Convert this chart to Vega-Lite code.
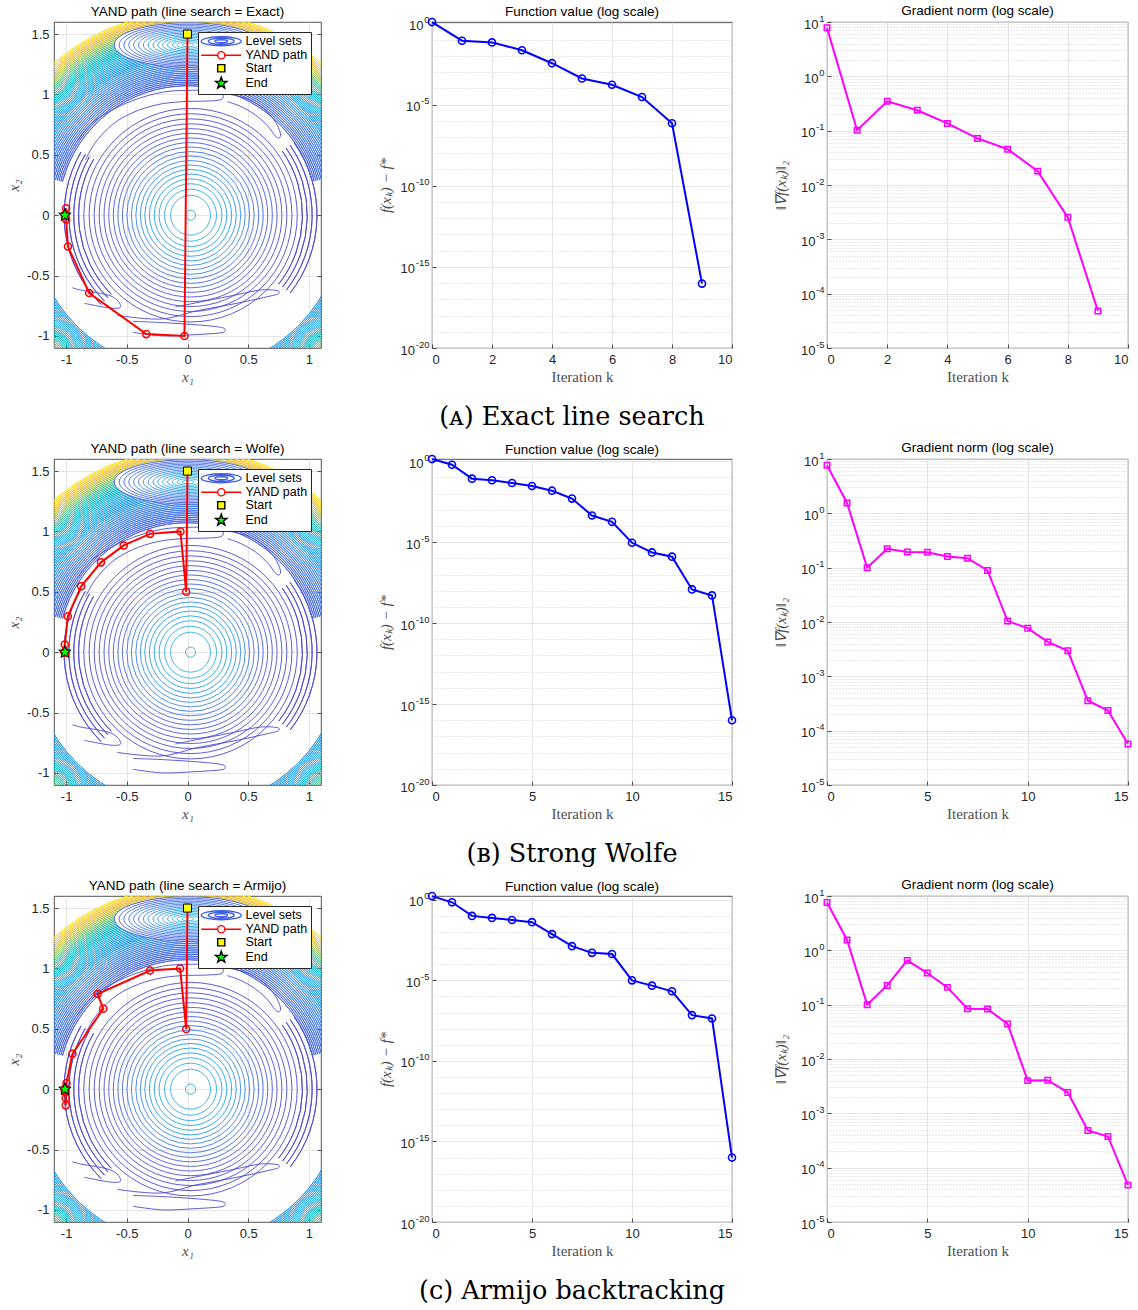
{
"$schema": "https://vega.github.io/schema/vega-lite/v6.json",
"padding": {"left": 5, "top": 3, "right": 0, "bottom": 0},
"background": "#ffffff",
"spacing": 9,
"resolve": {"scale": {"fill": "independent", "stroke": "independent", "shape": "independent"}, "legend": {"fill": "independent", "stroke": "independent", "shape": "independent"}},
"config": {
 "view": {"stroke": "#262626", "strokeWidth": 0.8},
 "title": {"font": "Liberation Sans", "fontSize": 13.5, "fontWeight": "normal", "color": "#000000", "offset": -4.5, "frame": "group"},
 "axis": {"labelFont": "Liberation Sans", "labelFontSize": 13, "labelColor": "#262626", "titleFont": "Liberation Serif", "titleFontSize": 15, "titleFontWeight": "normal", "titleColor": "#4d4d4d", "domain": false, "ticks": true, "tickSize": -4, "tickColor": "#262626", "tickWidth": 0.8, "labelPadding": 9, "gridColor": "#dedede", "gridWidth": 0.8, "gridOpacity": 1},
 "legend": {"labelFont": "Liberation Sans"}
},
"datasets": {
 "hill": [
  {"cx":0.025,"cy":0,"r":0.042,"lvl":0.34},{"cx":0.025,"cy":0,"r":0.165,"lvl":0.33},{"cx":0.025,"cy":0,"r":0.215,"lvl":0.32},
  {"cx":0.025,"cy":0,"r":0.26,"lvl":0.31},{"cx":0.025,"cy":0,"r":0.30,"lvl":0.29},{"cx":0.025,"cy":0,"r":0.34,"lvl":0.27},
  {"cx":0.025,"cy":0,"r":0.378,"lvl":0.25},{"cx":0.025,"cy":0,"r":0.415,"lvl":0.22},{"cx":0.025,"cy":0,"r":0.452,"lvl":0.19},
  {"cx":0.025,"cy":0,"r":0.489,"lvl":0.16},{"cx":0.025,"cy":0,"r":0.526,"lvl":0.13},{"cx":0.025,"cy":0,"r":0.563,"lvl":0.11},
  {"cx":0.025,"cy":0,"r":0.60,"lvl":0.09},{"cx":0.025,"cy":0,"r":0.638,"lvl":0.07},{"cx":0.025,"cy":0,"r":0.676,"lvl":0.055},
  {"cx":0.025,"cy":0,"r":0.715,"lvl":0.04},{"cx":0.025,"cy":0,"r":0.755,"lvl":0.03},{"cx":0.025,"cy":0,"r":0.796,"lvl":0.02},
  {"cx":0.025,"cy":0,"r":0.838,"lvl":0.01},{"cx":0.025,"cy":0,"r":0.882,"lvl":0.005}
 ],
 "arcs": [
  {"cx":0.025,"cy":0,"r":0.925,"t1":225,"t2":300,"lvl":0.0},{"cx":0.025,"cy":0,"r":0.965,"t1":225,"t2":300,"lvl":0.0},
  {"cx":0.025,"cy":0,"r":1.005,"t1":225,"t2":300,"lvl":0.0},{"cx":0.025,"cy":0,"r":1.045,"t1":225,"t2":300,"lvl":0.0},
  {"cx":0.025,"cy":0,"r":0.925,"t1":55,"t2":128,"lvl":0.0},{"cx":0.025,"cy":0,"r":0.965,"t1":55,"t2":128,"lvl":0.0},
  {"cx":0.025,"cy":0,"r":1.005,"t1":55,"t2":128,"lvl":0.0},{"cx":0.025,"cy":0,"r":1.045,"t1":55,"t2":128,"lvl":0.0},
  {"cx":0,"cy":0,"r":1.070,"t1":285,"t2":435,"lvl":0.09},{"cx":0,"cy":0,"r":1.085,"t1":285,"t2":435,"lvl":0.10},
  {"cx":0,"cy":0,"r":1.100,"t1":285,"t2":435,"lvl":0.11},{"cx":0,"cy":0,"r":1.115,"t1":285,"t2":435,"lvl":0.12},
  {"cx":0,"cy":0,"r":1.130,"t1":285,"t2":435,"lvl":0.13},{"cx":0,"cy":0,"r":1.145,"t1":285,"t2":435,"lvl":0.14},
  {"cx":0,"cy":0,"r":1.160,"t1":285,"t2":435,"lvl":0.15},{"cx":0,"cy":0,"r":1.175,"t1":285,"t2":435,"lvl":0.16},
  {"cx":0,"cy":0,"r":1.190,"t1":285,"t2":435,"lvl":0.17},{"cx":0,"cy":0,"r":1.205,"t1":285,"t2":435,"lvl":0.18},
  {"cx":0,"cy":0,"r":1.220,"t1":285,"t2":435,"lvl":0.19},{"cx":0,"cy":0,"r":1.235,"t1":285,"t2":435,"lvl":0.20},
  {"cx":0,"cy":0,"r":1.250,"t1":285,"t2":435,"lvl":0.215},{"cx":0,"cy":0,"r":1.265,"t1":285,"t2":435,"lvl":0.23},
  {"cx":0,"cy":0,"r":1.280,"t1":285,"t2":435,"lvl":0.245},
  {"cx":0,"cy":0,"r":1.295,"t1":0,"t2":360,"lvl":0.25},{"cx":0,"cy":0,"r":1.308,"t1":0,"t2":360,"lvl":0.26},
  {"cx":0,"cy":0,"r":1.321,"t1":0,"t2":360,"lvl":0.27},{"cx":0,"cy":0,"r":1.334,"t1":0,"t2":360,"lvl":0.28},
  {"cx":0,"cy":0,"r":1.347,"t1":0,"t2":360,"lvl":0.29},{"cx":0,"cy":0,"r":1.360,"t1":0,"t2":360,"lvl":0.30},
  {"cx":0,"cy":0,"r":1.373,"t1":0,"t2":360,"lvl":0.31},{"cx":0,"cy":0,"r":1.386,"t1":0,"t2":360,"lvl":0.32},
  {"cx":0,"cy":0,"r":1.399,"t1":0,"t2":360,"lvl":0.335},{"cx":0,"cy":0,"r":1.412,"t1":0,"t2":360,"lvl":0.35},
  {"cx":0,"cy":0,"r":1.425,"t1":0,"t2":360,"lvl":0.36},{"cx":0,"cy":0,"r":1.438,"t1":0,"t2":360,"lvl":0.375},
  {"cx":0,"cy":0,"r":1.451,"t1":0,"t2":360,"lvl":0.39},{"cx":0,"cy":0,"r":1.464,"t1":0,"t2":360,"lvl":0.405},
  {"cx":0,"cy":0,"r":1.477,"t1":0,"t2":360,"lvl":0.42},{"cx":0,"cy":0,"r":1.490,"t1":0,"t2":360,"lvl":0.44},
  {"cx":0,"cy":0,"r":1.503,"t1":0,"t2":360,"lvl":0.46},{"cx":0,"cy":0,"r":1.516,"t1":0,"t2":360,"lvl":0.49},
  {"cx":0,"cy":0,"r":1.529,"t1":0,"t2":360,"lvl":0.52},{"cx":0,"cy":0,"r":1.542,"t1":0,"t2":360,"lvl":0.56},
  {"cx":0,"cy":0,"r":1.555,"t1":0,"t2":360,"lvl":0.60},{"cx":0,"cy":0,"r":1.568,"t1":0,"t2":360,"lvl":0.64},
  {"cx":0,"cy":0,"r":1.581,"t1":0,"t2":360,"lvl":0.68},{"cx":0,"cy":0,"r":1.594,"t1":0,"t2":360,"lvl":0.72},
  {"cx":0,"cy":0,"r":1.607,"t1":0,"t2":360,"lvl":0.76},{"cx":0,"cy":0,"r":1.620,"t1":0,"t2":360,"lvl":0.80},
  {"cx":0,"cy":0,"r":1.633,"t1":0,"t2":360,"lvl":0.85},{"cx":0,"cy":0,"r":1.646,"t1":0,"t2":360,"lvl":0.90},
  {"cx":0,"cy":0,"r":1.659,"t1":0,"t2":360,"lvl":0.95},{"cx":0,"cy":0,"r":1.672,"t1":0,"t2":360,"lvl":1.00}
 ],
 "bowlMask": [{"cx":0.005,"cy":1.41,"r":0.61}],
 "bowl": [
  {"cx":0.005,"cy":1.41,"r":0.05,"lvl":0.36},{"cx":0.005,"cy":1.41,"r":0.09,"lvl":0.34},{"cx":0.005,"cy":1.41,"r":0.13,"lvl":0.32},
  {"cx":0.005,"cy":1.41,"r":0.17,"lvl":0.30},{"cx":0.005,"cy":1.41,"r":0.21,"lvl":0.28},{"cx":0.005,"cy":1.41,"r":0.25,"lvl":0.26},
  {"cx":0.005,"cy":1.41,"r":0.29,"lvl":0.24},{"cx":0.005,"cy":1.41,"r":0.33,"lvl":0.22},{"cx":0.005,"cy":1.41,"r":0.37,"lvl":0.20},
  {"cx":0.005,"cy":1.41,"r":0.41,"lvl":0.18},{"cx":0.005,"cy":1.41,"r":0.45,"lvl":0.16},{"cx":0.005,"cy":1.41,"r":0.49,"lvl":0.14},
  {"cx":0.005,"cy":1.41,"r":0.53,"lvl":0.12},{"cx":0.005,"cy":1.41,"r":0.57,"lvl":0.10},{"cx":0.005,"cy":1.41,"r":0.61,"lvl":0.08}
 ],
 "fingers": [
  {"id":"t","i":0,"x":-0.84,"y":0.46,"lvl":0.01},{"id":"t","i":1,"x":-0.76,"y":0.6,"lvl":0.01},{"id":"t","i":2,"x":-0.62,"y":0.75,"lvl":0.01},
  {"id":"t","i":3,"x":-0.45,"y":0.85,"lvl":0.01},{"id":"t","i":4,"x":-0.25,"y":0.915,"lvl":0.01},{"id":"t","i":5,"x":-0.05,"y":0.94,"lvl":0.01},
  {"id":"t","i":6,"x":0.15,"y":0.945,"lvl":0.01},{"id":"t","i":7,"x":0.27,"y":0.955,"lvl":0.01},{"id":"t","i":8,"x":0.295,"y":0.985,"lvl":0.01},
  {"id":"t","i":9,"x":0.27,"y":1.01,"lvl":0.01},{"id":"t","i":10,"x":0.2,"y":1.03,"lvl":0.01},{"id":"t","i":11,"x":0.05,"y":1.035,"lvl":0.01},
  {"id":"t","i":12,"x":-0.2,"y":1.02,"lvl":0.01},{"id":"t","i":13,"x":-0.45,"y":0.95,"lvl":0.01},{"id":"t","i":14,"x":-0.66,"y":0.85,"lvl":0.01},
  {"id":"t","i":15,"x":-0.8,"y":0.75,"lvl":0.01},{"id":"t","i":16,"x":-0.91,"y":0.61,"lvl":0.01},
  {"id":"r","i":0,"x":0.33,"y":0.94,"lvl":0.01},{"id":"r","i":1,"x":0.44,"y":0.9,"lvl":0.01},{"id":"r","i":2,"x":0.56,"y":0.83,"lvl":0.01},
  {"id":"r","i":3,"x":0.66,"y":0.74,"lvl":0.01},{"id":"r","i":4,"x":0.72,"y":0.66,"lvl":0.01},{"id":"r","i":5,"x":0.755,"y":0.64,"lvl":0.01},
  {"id":"r","i":6,"x":0.765,"y":0.68,"lvl":0.01},{"id":"r","i":7,"x":0.72,"y":0.78,"lvl":0.01},{"id":"r","i":8,"x":0.63,"y":0.88,"lvl":0.01},
  {"id":"r","i":9,"x":0.5,"y":0.96,"lvl":0.01},{"id":"r","i":10,"x":0.35,"y":1.0,"lvl":0.01},
  {"id":"br","i":0,"x":-0.58,"y":-0.83,"lvl":0.01},{"id":"br","i":1,"x":-0.22,"y":-0.86,"lvl":0.01},{"id":"br","i":2,"x":0.085,"y":-0.79,"lvl":0.01},
  {"id":"br","i":3,"x":0.416,"y":-0.728,"lvl":0.01},{"id":"br","i":4,"x":0.68,"y":-0.67,"lvl":0.01},{"id":"br","i":5,"x":0.75,"y":-0.65,"lvl":0.01},
  {"id":"br","i":6,"x":0.74,"y":-0.625,"lvl":0.01},{"id":"br","i":7,"x":0.6,"y":-0.62,"lvl":0.01},{"id":"br","i":8,"x":0.4,"y":-0.66,"lvl":0.01},
  {"id":"br","i":9,"x":0.15,"y":-0.71,"lvl":0.01},{"id":"br","i":10,"x":-0.1,"y":-0.76,"lvl":0.01},
  {"id":"b","i":0,"x":-0.45,"y":-0.97,"lvl":0.01},{"id":"b","i":1,"x":-0.2,"y":-1.0,"lvl":0.01},{"id":"b","i":2,"x":0.05,"y":-0.99,"lvl":0.01},
  {"id":"b","i":3,"x":0.27,"y":-0.975,"lvl":0.01},{"id":"b","i":4,"x":0.31,"y":-0.955,"lvl":0.01},{"id":"b","i":5,"x":0.28,"y":-0.93,"lvl":0.01},
  {"id":"b","i":6,"x":0.1,"y":-0.91,"lvl":0.01},{"id":"b","i":7,"x":-0.2,"y":-0.89,"lvl":0.01},{"id":"b","i":8,"x":-0.45,"y":-0.88,"lvl":0.01},
  {"id":"bl","i":0,"x":-0.95,"y":-0.6,"lvl":0.01},{"id":"bl","i":1,"x":-0.88,"y":-0.62,"lvl":0.01},{"id":"bl","i":2,"x":-0.63,"y":-0.67,"lvl":0.01},
  {"id":"bl","i":3,"x":-0.55,"y":-0.755,"lvl":0.01},{"id":"bl","i":4,"x":-0.63,"y":-0.77,"lvl":0.01},{"id":"bl","i":5,"x":-0.85,"y":-0.73,"lvl":0.01}
 ],
 "legendItems": [{"series":"Level sets"},{"series":"YAND path"},{"series":"Start"},{"series":"End"}],
 "pathA": [
  {"i":0,"x":0.0,"y":1.5},{"i":1,"x":-0.025,"y":-1.0},{"i":2,"x":-0.34,"y":-0.985},{"i":3,"x":-0.81,"y":-0.645},
  {"i":4,"x":-0.985,"y":-0.26},{"i":5,"x":-1.0,"y":-0.035},{"i":6,"x":-1.0,"y":0.058},{"i":7,"x":-1.01,"y":0.0},
  {"i":8,"x":-1.01,"y":0.003},{"i":9,"x":-1.01,"y":0.0}
 ],
 "pathB": [
  {"i":0,"x":0.0,"y":1.5},{"i":1,"x":-0.011,"y":0.5},{"i":2,"x":-0.058,"y":1.0},{"i":3,"x":-0.309,"y":0.98},
  {"i":4,"x":-0.526,"y":0.884},{"i":5,"x":-0.713,"y":0.744},{"i":6,"x":-0.876,"y":0.546},{"i":7,"x":-0.986,"y":0.298},
  {"i":8,"x":-1.011,"y":0.064},{"i":9,"x":-1.01,"y":0.004},{"i":10,"x":-1.01,"y":0.001},{"i":11,"x":-1.01,"y":0.0},
  {"i":12,"x":-1.01,"y":0.0},{"i":13,"x":-1.01,"y":0.0},{"i":14,"x":-1.01,"y":0.0},{"i":15,"x":-1.01,"y":0.0}
 ],
 "pathC": [
  {"i":0,"x":0.0,"y":1.5},{"i":1,"x":-0.011,"y":0.499},{"i":2,"x":-0.061,"y":1.0},{"i":3,"x":-0.309,"y":0.983},
  {"i":4,"x":-0.741,"y":0.788},{"i":5,"x":-0.694,"y":0.667},{"i":6,"x":-0.948,"y":0.293},{"i":7,"x":-0.997,"y":0.05},
  {"i":8,"x":-1.003,"y":-0.134},{"i":9,"x":-1.003,"y":-0.073},{"i":10,"x":-1.01,"y":-0.02},{"i":11,"x":-1.01,"y":0.0},
  {"i":12,"x":-1.01,"y":0.0},{"i":13,"x":-1.01,"y":0.0},{"i":14,"x":-1.01,"y":0.0},{"i":15,"x":-1.01,"y":0.0}
 ],
 "convA": [
  {"k":0,"f":1.2,"g":7.8},{"k":1,"f":0.085,"g":0.102},{"k":2,"f":0.067,"g":0.347},{"k":3,"f":0.022,"g":0.237},
  {"k":4,"f":0.0035,"g":0.136},{"k":5,"f":0.0004,"g":0.072},{"k":6,"f":0.000165,"g":0.0455},{"k":7,"f":2.9e-5,"g":0.018},
  {"k":8,"f":7.0e-7,"g":0.00254},{"k":9,"f":9.3e-17,"g":4.8e-5}
 ],
 "convB": [
  {"k":0,"f":1.35,"g":7.66},{"k":1,"f":0.6,"g":1.55},{"k":2,"f":0.083,"g":0.1},{"k":3,"f":0.066,"g":0.222},
  {"k":4,"f":0.045,"g":0.195},{"k":5,"f":0.029,"g":0.192},{"k":6,"f":0.015,"g":0.16},{"k":7,"f":0.0049,"g":0.149},
  {"k":8,"f":0.00044,"g":0.089},{"k":9,"f":0.00018,"g":0.0104},{"k":10,"f":9.1e-6,"g":0.0077},{"k":11,"f":2.3e-6,"g":0.0043},
  {"k":12,"f":1.26e-6,"g":0.00295},{"k":13,"f":1.2e-8,"g":0.000355},{"k":14,"f":5.1e-9,"g":0.000235},{"k":15,"f":1.0e-16,"g":5.7e-5}
 ],
 "convC": [
  {"k":0,"f":1.7,"g":7.6},{"k":1,"f":0.7,"g":1.55},{"k":2,"f":0.1,"g":0.1},{"k":3,"f":0.075,"g":0.226},
  {"k":4,"f":0.056,"g":0.653},{"k":5,"f":0.041,"g":0.382},{"k":6,"f":0.0074,"g":0.208},{"k":7,"f":0.00133,"g":0.0843},
  {"k":8,"f":0.00051,"g":0.083},{"k":9,"f":0.00043,"g":0.0442},{"k":10,"f":1.0e-5,"g":0.004},{"k":11,"f":4.7e-6,"g":0.00406},
  {"k":12,"f":2.1e-6,"g":0.00241},{"k":13,"f":6.9e-8,"g":0.000483},{"k":14,"f":4.3e-8,"g":0.000375},{"k":15,"f":1.0e-16,"g":4.77e-5}
 ]
},
"vconcat": [
 {
  "title": {"text": "(ᴀ) Exact line search", "orient": "bottom", "anchor": "middle", "frame": "bounds", "font": "DejaVu Serif", "fontSize": 25.5, "fontWeight": "normal", "color": "#000000", "offset": 21},
  "spacing": 29,
  "resolve": {"scale": {"fill": "independent", "stroke": "independent", "shape": "independent"}, "legend": {"fill": "independent", "stroke": "independent", "shape": "independent"}},
  "hconcat": [
   {
    "width": 267, "height": 326,
    "title": {"text": "YAND path (line search = Exact)", "offset": 4},
    "resolve": {"axis": {"y": "independent"}},
    "layer": [
     {"data": {"name": "hill"}, "mark": {"type": "point", "shape": "circle", "filled": false, "strokeWidth": 0.9, "opacity": 1, "clip": true},
      "encoding": {
       "x": {"field": "cx", "type": "quantitative", "scale": {"domain": [-1.1, 1.1], "nice": false, "zero": false}, "axis": {"values": [-1, -0.5, 0, 0.5, 1], "labelExpr": "datum.value + ''", "title": "x₁", "titleFontStyle": "italic", "grid": true, "titlePadding": 3}},
       "y": {"field": "cy", "type": "quantitative", "scale": {"domain": [-1.1, 1.6], "nice": false, "zero": false}, "axis": {"values": [-1, -0.5, 0, 0.5, 1, 1.5], "labelExpr": "datum.value + ''", "title": "x₂", "titleFontStyle": "italic", "grid": true, "minExtent": 27, "maxExtent": 27, "titlePadding": 6}},
       "size": {"field": "r", "type": "quantitative", "scale": {"type": "pow", "exponent": 2, "domain": [0, 1], "range": [0, 58564]}, "legend": null},
       "color": {"field": "lvl", "type": "quantitative", "scale": {"domain": [0, 0.1, 0.2, 0.33, 0.45, 0.55, 0.7, 0.85, 1], "range": ["#4b47cf", "#4763e0", "#3f85e8", "#31aee0", "#36bcae", "#6cc27e", "#c3c24a", "#f7bf3a", "#f6e620"]}, "legend": null}}},
     {"data": {"name": "arcs"}, "mark": {"type": "arc", "filled": false, "strokeWidth": 0.9, "opacity": 1, "clip": true},
      "encoding": {
       "x": {"field": "cx", "type": "quantitative"},
       "y": {"field": "cy", "type": "quantitative", "axis": {"orient": "right", "values": [-1, -0.5, 0, 0.5, 1, 1.5], "labels": false, "grid": false, "title": null, "minExtent": 26, "maxExtent": 26}},
       "theta": {"field": "t1", "type": "quantitative", "stack": null, "scale": {"domain": [0, 360], "range": [0, 6.283185]}},
       "theta2": {"field": "t2"},
       "radius": {"field": "r", "type": "quantitative", "scale": {"type": "linear", "domain": [0, 1], "range": [0, 121], "zero": true}},
       "radius2": {"field": "r"},
       "color": {"field": "lvl", "type": "quantitative", "legend": null}}},
     {"data": {"name": "bowlMask"}, "mark": {"type": "point", "shape": "M-1,0A1,0.3,0,1,0,1,0A1,0.3,0,1,0,-1,0Z", "filled": true, "color": "#ffffff", "opacity": 1, "clip": true},
      "encoding": {
       "x": {"field": "cx", "type": "quantitative"},
       "y": {"field": "cy", "type": "quantitative", "axis": null},
       "size": {"field": "r", "type": "quantitative", "legend": null}}},
     {"data": {"name": "bowl"}, "mark": {"type": "point", "shape": "M-1,0A1,0.3,0,1,0,1,0A1,0.3,0,1,0,-1,0Z", "filled": false, "strokeWidth": 0.9, "opacity": 1, "clip": true},
      "encoding": {
       "x": {"field": "cx", "type": "quantitative"},
       "y": {"field": "cy", "type": "quantitative", "axis": null},
       "size": {"field": "r", "type": "quantitative", "legend": null},
       "color": {"field": "lvl", "type": "quantitative", "legend": null}}},
     {"data": {"name": "fingers"}, "mark": {"type": "line", "strokeWidth": 0.9, "clip": true, "interpolate": "cardinal"},
      "encoding": {
       "x": {"field": "x", "type": "quantitative"},
       "y": {"field": "y", "type": "quantitative", "axis": null},
       "detail": {"field": "id"},
       "order": {"field": "i"},
       "color": {"field": "lvl", "type": "quantitative", "legend": null}}},
     {"data": {"name": "pathA"}, "mark": {"type": "line", "color": "#ff0000", "strokeWidth": 2, "clip": true},
      "encoding": {"x": {"field": "x", "type": "quantitative"}, "y": {"field": "y", "type": "quantitative", "axis": null}, "order": {"field": "i"}}},
     {"data": {"name": "pathA"}, "mark": {"type": "point", "shape": "circle", "filled": false, "color": "#ff0000", "strokeWidth": 1.5, "size": 50, "opacity": 1},
      "encoding": {"x": {"field": "x", "type": "quantitative"}, "y": {"field": "y", "type": "quantitative", "axis": null}}},
     {"data": {"name": "pathA"}, "transform": [{"filter": "datum.i == 0"}], "mark": {"type": "point", "shape": "square", "filled": true, "fill": "#ffff00", "stroke": "#000000", "strokeWidth": 1, "size": 64, "opacity": 1},
      "encoding": {"x": {"field": "x", "type": "quantitative"}, "y": {"field": "y", "type": "quantitative", "axis": null}}},
     {"data": {"name": "pathA"}, "transform": [{"filter": "datum.i == 9"}], "mark": {"type": "point", "shape": "M0,-1L0.235,-0.324L0.951,-0.309L0.38,0.124L0.588,0.809L0,0.4L-0.588,0.809L-0.38,0.124L-0.951,-0.309L-0.235,-0.324Z", "filled": true, "fill": "#00ff00", "stroke": "#000000", "strokeWidth": 1, "size": 170, "opacity": 1},
      "encoding": {"x": {"field": "x", "type": "quantitative"}, "y": {"field": "y", "type": "quantitative", "axis": null}}},
     {"data": {"name": "legendItems"}, "mark": {"type": "point", "filled": true, "opacity": 1, "clip": true},
      "encoding": {
       "x": {"datum": 9},
       "y": {"datum": 9, "axis": null},
       "fill": {"field": "series", "type": "nominal", "scale": {"domain": ["Level sets", "YAND path", "Start", "End"], "range": ["transparent", "transparent", "#ffff00", "#00ff00"]}, "legend": {"title": null, "orient": "top-right", "offset": 10, "padding": 3, "rowPadding": -1, "symbolSize": 100, "symbolStrokeWidth": 1.4, "labelFontSize": 12.5, "labelColor": "#000000", "labelOffset": 32, "strokeColor": "#262626", "fillColor": "#ffffff", "cornerRadius": 0}},
       "stroke": {"field": "series", "type": "nominal", "scale": {"domain": ["Level sets", "YAND path", "Start", "End"], "range": ["#3f5fe0", "#ff0000", "#000000", "#000000"]}, "legend": {"title": null, "orient": "top-right", "offset": 10, "padding": 3, "rowPadding": -1, "symbolSize": 100, "symbolStrokeWidth": 1.4, "labelFontSize": 12.5, "labelColor": "#000000", "labelOffset": 32, "strokeColor": "#262626", "fillColor": "#ffffff", "cornerRadius": 0}},
       "shape": {"field": "series", "type": "nominal", "scale": {"domain": ["Level sets", "YAND path", "Start", "End"], "range": ["M-1.2,0A4,0.9,0,1,0,6.8,0A4,0.9,0,1,0,-1.2,0ZM0.2,0A2.6,0.6,0,1,0,5.4,0A2.6,0.6,0,1,0,0.2,0ZM1.5,0A1.3,0.3,0,1,0,4.1,0A1.3,0.3,0,1,0,1.5,0Z", "M-1.2,0L2.08,0M3.52,0L6.8,0M2.08,0A0.72,0.72,0,1,0,3.52,0A0.72,0.72,0,1,0,2.08,0Z", "M2.08,-0.72L3.52,-0.72L3.52,0.72L2.08,0.72Z", "M2.8,-1.2L3.082,-0.388L3.941,-0.371L3.256,0.148L3.506,0.971L2.8,0.48L2.094,0.971L2.344,0.148L1.659,-0.371L2.518,-0.388Z"]}, "legend": {"title": null, "orient": "top-right", "offset": 10, "padding": 3, "rowPadding": -1, "symbolSize": 100, "symbolStrokeWidth": 1.4, "labelFontSize": 12.5, "labelColor": "#000000", "labelOffset": 32, "strokeColor": "#262626", "fillColor": "#ffffff", "cornerRadius": 0}}}}
    ]
   },
   {
    "width": 300, "height": 326,
    "title": "Function value (log scale)",
    "data": {"name": "convA"},
    "resolve": {"axis": {"y": "independent"}},
    "layer": [
     {"mark": {"type": "line", "color": "#0000ff", "strokeWidth": 2},
      "encoding": {
       "x": {"field": "k", "type": "quantitative", "scale": {"domain": [0, 10], "nice": false, "zero": false}, "axis": {"values": [0, 2, 4, 6, 8, 10], "title": "Iteration k", "grid": true, "titlePadding": 3}},
       "y": {"field": "f", "type": "quantitative", "scale": {"type": "log", "domain": [1e-20, 1.21], "nice": false}, "axis": {"values": [1e-20, 1e-15, 1e-10, 1e-5, 1], "labelExpr": "'10'", "labelPadding": {"condition": [{"test": "datum.value >= 1", "value": 13}, {"test": "datum.value >= 1e-9", "value": 16}], "value": 21.5}, "labelOffset": 2, "title": "f(xₖ) − f*", "titleFontStyle": "italic", "grid": true, "minExtent": 32, "maxExtent": 32, "titlePadding": 7}}}},
     {"mark": {"type": "point", "shape": "circle", "filled": false, "color": "#0000ff", "strokeWidth": 1.6, "size": 50, "opacity": 1},
      "encoding": {
       "x": {"field": "k", "type": "quantitative"},
       "y": {"field": "f", "type": "quantitative", "axis": {"orient": "right", "values": [1e-19, 1e-18, 1e-17, 1e-16, 1e-14, 1e-13, 1e-12, 1e-11, 1e-9, 1e-8, 1e-7, 1e-6, 1e-4, 1e-3, 1e-2, 1e-1], "labels": false, "ticks": false, "grid": true, "gridDash": [1, 2], "gridColor": "#c8c8c8", "title": null, "minExtent": 10, "maxExtent": 10}}}},
     {"mark": {"type": "point", "opacity": 0},
      "encoding": {
       "x": {"field": "k", "type": "quantitative"},
       "y": {"field": "f", "type": "quantitative", "axis": {"orient": "left", "values": [1e-20, 1e-15, 1e-10, 1e-5, 1], "labelExpr": "'' + round(log(datum.value) / LN10)", "labelFontSize": 9.5, "labelPadding": 3, "labelOffset": -4, "ticks": false, "grid": false, "title": null, "minExtent": 0, "maxExtent": 32}}}}
    ]
   },
   {
    "width": 301, "height": 326,
    "title": "Gradient norm (log scale)",
    "data": {"name": "convA"},
    "resolve": {"axis": {"y": "independent"}},
    "layer": [
     {"mark": {"type": "line", "color": "#ff00ff", "strokeWidth": 2},
      "encoding": {
       "x": {"field": "k", "type": "quantitative", "scale": {"domain": [0, 10], "nice": false, "zero": false}, "axis": {"values": [0, 2, 4, 6, 8, 10], "title": "Iteration k", "grid": true, "titlePadding": 3}},
       "y": {"field": "g", "type": "quantitative", "scale": {"type": "log", "domain": [1e-5, 10], "nice": false}, "axis": {"values": [1e-5, 1e-4, 1e-3, 1e-2, 1e-1, 1, 10], "labelExpr": "'10'", "labelPadding": {"condition": {"test": "datum.value >= 1", "value": 13}, "value": 16}, "labelOffset": 2, "title": "‖∇f(xₖ)‖₂", "titleFontStyle": "italic", "grid": true, "minExtent": 32, "maxExtent": 32, "titlePadding": 7}}}},
     {"mark": {"type": "point", "shape": "square", "filled": false, "color": "#ff00ff", "strokeWidth": 1.5, "size": 30, "opacity": 1},
      "encoding": {
       "x": {"field": "k", "type": "quantitative"},
       "y": {"field": "g", "type": "quantitative", "axis": {"orient": "right", "values": [2e-5, 3e-5, 4e-5, 5e-5, 6e-5, 7e-5, 8e-5, 9e-5, 2e-4, 3e-4, 4e-4, 5e-4, 6e-4, 7e-4, 8e-4, 9e-4, 2e-3, 3e-3, 4e-3, 5e-3, 6e-3, 7e-3, 8e-3, 9e-3, 0.02, 0.03, 0.04, 0.05, 0.06, 0.07, 0.08, 0.09, 0.2, 0.3, 0.4, 0.5, 0.6, 0.7, 0.8, 0.9, 2, 3, 4, 5, 6, 7, 8, 9], "labels": false, "ticks": false, "grid": true, "gridDash": [1, 2], "gridColor": "#c8c8c8", "title": null, "minExtent": 10, "maxExtent": 10}}}},
     {"mark": {"type": "point", "opacity": 0},
      "encoding": {
       "x": {"field": "k", "type": "quantitative"},
       "y": {"field": "g", "type": "quantitative", "axis": {"orient": "left", "values": [1e-5, 1e-4, 1e-3, 1e-2, 1e-1, 1, 10], "labelExpr": "'' + round(log(datum.value) / LN10)", "labelFontSize": 9.5, "labelPadding": 3, "labelOffset": -4, "ticks": false, "grid": false, "title": null, "minExtent": 0, "maxExtent": 32}}}}
    ]
   }
  ]
 },
 {
  "title": {"text": "(ʙ) Strong Wolfe", "orient": "bottom", "anchor": "middle", "frame": "bounds", "font": "DejaVu Serif", "fontSize": 25.5, "fontWeight": "normal", "color": "#000000", "offset": 21},
  "spacing": 29,
  "resolve": {"scale": {"fill": "independent", "stroke": "independent", "shape": "independent"}, "legend": {"fill": "independent", "stroke": "independent", "shape": "independent"}},
  "hconcat": [
   {
    "width": 267, "height": 326,
    "title": {"text": "YAND path (line search = Wolfe)", "offset": 4},
    "resolve": {"axis": {"y": "independent"}},
    "layer": [
     {"data": {"name": "hill"}, "mark": {"type": "point", "shape": "circle", "filled": false, "strokeWidth": 0.9, "opacity": 1, "clip": true},
      "encoding": {
       "x": {"field": "cx", "type": "quantitative", "scale": {"domain": [-1.1, 1.1], "nice": false, "zero": false}, "axis": {"values": [-1, -0.5, 0, 0.5, 1], "labelExpr": "datum.value + ''", "title": "x₁", "titleFontStyle": "italic", "grid": true, "titlePadding": 3}},
       "y": {"field": "cy", "type": "quantitative", "scale": {"domain": [-1.1, 1.6], "nice": false, "zero": false}, "axis": {"values": [-1, -0.5, 0, 0.5, 1, 1.5], "labelExpr": "datum.value + ''", "title": "x₂", "titleFontStyle": "italic", "grid": true, "minExtent": 27, "maxExtent": 27, "titlePadding": 6}},
       "size": {"field": "r", "type": "quantitative", "scale": {"type": "pow", "exponent": 2, "domain": [0, 1], "range": [0, 58564]}, "legend": null},
       "color": {"field": "lvl", "type": "quantitative", "scale": {"domain": [0, 0.1, 0.2, 0.33, 0.45, 0.55, 0.7, 0.85, 1], "range": ["#4b47cf", "#4763e0", "#3f85e8", "#31aee0", "#36bcae", "#6cc27e", "#c3c24a", "#f7bf3a", "#f6e620"]}, "legend": null}}},
     {"data": {"name": "arcs"}, "mark": {"type": "arc", "filled": false, "strokeWidth": 0.9, "opacity": 1, "clip": true},
      "encoding": {
       "x": {"field": "cx", "type": "quantitative"},
       "y": {"field": "cy", "type": "quantitative", "axis": {"orient": "right", "values": [-1, -0.5, 0, 0.5, 1, 1.5], "labels": false, "grid": false, "title": null, "minExtent": 26, "maxExtent": 26}},
       "theta": {"field": "t1", "type": "quantitative", "stack": null, "scale": {"domain": [0, 360], "range": [0, 6.283185]}},
       "theta2": {"field": "t2"},
       "radius": {"field": "r", "type": "quantitative", "scale": {"type": "linear", "domain": [0, 1], "range": [0, 121], "zero": true}},
       "radius2": {"field": "r"},
       "color": {"field": "lvl", "type": "quantitative", "legend": null}}},
     {"data": {"name": "bowlMask"}, "mark": {"type": "point", "shape": "M-1,0A1,0.3,0,1,0,1,0A1,0.3,0,1,0,-1,0Z", "filled": true, "color": "#ffffff", "opacity": 1, "clip": true},
      "encoding": {
       "x": {"field": "cx", "type": "quantitative"},
       "y": {"field": "cy", "type": "quantitative", "axis": null},
       "size": {"field": "r", "type": "quantitative", "legend": null}}},
     {"data": {"name": "bowl"}, "mark": {"type": "point", "shape": "M-1,0A1,0.3,0,1,0,1,0A1,0.3,0,1,0,-1,0Z", "filled": false, "strokeWidth": 0.9, "opacity": 1, "clip": true},
      "encoding": {
       "x": {"field": "cx", "type": "quantitative"},
       "y": {"field": "cy", "type": "quantitative", "axis": null},
       "size": {"field": "r", "type": "quantitative", "legend": null},
       "color": {"field": "lvl", "type": "quantitative", "legend": null}}},
     {"data": {"name": "fingers"}, "mark": {"type": "line", "strokeWidth": 0.9, "clip": true, "interpolate": "cardinal"},
      "encoding": {
       "x": {"field": "x", "type": "quantitative"},
       "y": {"field": "y", "type": "quantitative", "axis": null},
       "detail": {"field": "id"},
       "order": {"field": "i"},
       "color": {"field": "lvl", "type": "quantitative", "legend": null}}},
     {"data": {"name": "pathB"}, "mark": {"type": "line", "color": "#ff0000", "strokeWidth": 2, "clip": true},
      "encoding": {"x": {"field": "x", "type": "quantitative"}, "y": {"field": "y", "type": "quantitative", "axis": null}, "order": {"field": "i"}}},
     {"data": {"name": "pathB"}, "mark": {"type": "point", "shape": "circle", "filled": false, "color": "#ff0000", "strokeWidth": 1.5, "size": 50, "opacity": 1},
      "encoding": {"x": {"field": "x", "type": "quantitative"}, "y": {"field": "y", "type": "quantitative", "axis": null}}},
     {"data": {"name": "pathB"}, "transform": [{"filter": "datum.i == 0"}], "mark": {"type": "point", "shape": "square", "filled": true, "fill": "#ffff00", "stroke": "#000000", "strokeWidth": 1, "size": 64, "opacity": 1},
      "encoding": {"x": {"field": "x", "type": "quantitative"}, "y": {"field": "y", "type": "quantitative", "axis": null}}},
     {"data": {"name": "pathB"}, "transform": [{"filter": "datum.i == 15"}], "mark": {"type": "point", "shape": "M0,-1L0.235,-0.324L0.951,-0.309L0.38,0.124L0.588,0.809L0,0.4L-0.588,0.809L-0.38,0.124L-0.951,-0.309L-0.235,-0.324Z", "filled": true, "fill": "#00ff00", "stroke": "#000000", "strokeWidth": 1, "size": 170, "opacity": 1},
      "encoding": {"x": {"field": "x", "type": "quantitative"}, "y": {"field": "y", "type": "quantitative", "axis": null}}},
     {"data": {"name": "legendItems"}, "mark": {"type": "point", "filled": true, "opacity": 1, "clip": true},
      "encoding": {
       "x": {"datum": 9},
       "y": {"datum": 9, "axis": null},
       "fill": {"field": "series", "type": "nominal", "scale": {"domain": ["Level sets", "YAND path", "Start", "End"], "range": ["transparent", "transparent", "#ffff00", "#00ff00"]}, "legend": {"title": null, "orient": "top-right", "offset": 10, "padding": 3, "rowPadding": -1, "symbolSize": 100, "symbolStrokeWidth": 1.4, "labelFontSize": 12.5, "labelColor": "#000000", "labelOffset": 32, "strokeColor": "#262626", "fillColor": "#ffffff", "cornerRadius": 0}},
       "stroke": {"field": "series", "type": "nominal", "scale": {"domain": ["Level sets", "YAND path", "Start", "End"], "range": ["#3f5fe0", "#ff0000", "#000000", "#000000"]}, "legend": {"title": null, "orient": "top-right", "offset": 10, "padding": 3, "rowPadding": -1, "symbolSize": 100, "symbolStrokeWidth": 1.4, "labelFontSize": 12.5, "labelColor": "#000000", "labelOffset": 32, "strokeColor": "#262626", "fillColor": "#ffffff", "cornerRadius": 0}},
       "shape": {"field": "series", "type": "nominal", "scale": {"domain": ["Level sets", "YAND path", "Start", "End"], "range": ["M-1.2,0A4,0.9,0,1,0,6.8,0A4,0.9,0,1,0,-1.2,0ZM0.2,0A2.6,0.6,0,1,0,5.4,0A2.6,0.6,0,1,0,0.2,0ZM1.5,0A1.3,0.3,0,1,0,4.1,0A1.3,0.3,0,1,0,1.5,0Z", "M-1.2,0L2.08,0M3.52,0L6.8,0M2.08,0A0.72,0.72,0,1,0,3.52,0A0.72,0.72,0,1,0,2.08,0Z", "M2.08,-0.72L3.52,-0.72L3.52,0.72L2.08,0.72Z", "M2.8,-1.2L3.082,-0.388L3.941,-0.371L3.256,0.148L3.506,0.971L2.8,0.48L2.094,0.971L2.344,0.148L1.659,-0.371L2.518,-0.388Z"]}, "legend": {"title": null, "orient": "top-right", "offset": 10, "padding": 3, "rowPadding": -1, "symbolSize": 100, "symbolStrokeWidth": 1.4, "labelFontSize": 12.5, "labelColor": "#000000", "labelOffset": 32, "strokeColor": "#262626", "fillColor": "#ffffff", "cornerRadius": 0}}}}
    ]
   },
   {
    "width": 300, "height": 326,
    "title": "Function value (log scale)",
    "data": {"name": "convB"},
    "resolve": {"axis": {"y": "independent"}},
    "layer": [
     {"mark": {"type": "line", "color": "#0000ff", "strokeWidth": 2},
      "encoding": {
       "x": {"field": "k", "type": "quantitative", "scale": {"domain": [0, 15], "nice": false, "zero": false}, "axis": {"values": [0, 5, 10, 15], "title": "Iteration k", "grid": true, "titlePadding": 3}},
       "y": {"field": "f", "type": "quantitative", "scale": {"type": "log", "domain": [1e-20, 1.36], "nice": false}, "axis": {"values": [1e-20, 1e-15, 1e-10, 1e-5, 1], "labelExpr": "'10'", "labelPadding": {"condition": [{"test": "datum.value >= 1", "value": 13}, {"test": "datum.value >= 1e-9", "value": 16}], "value": 21.5}, "labelOffset": 2, "title": "f(xₖ) − f*", "titleFontStyle": "italic", "grid": true, "minExtent": 32, "maxExtent": 32, "titlePadding": 7}}}},
     {"mark": {"type": "point", "shape": "circle", "filled": false, "color": "#0000ff", "strokeWidth": 1.6, "size": 50, "opacity": 1},
      "encoding": {
       "x": {"field": "k", "type": "quantitative"},
       "y": {"field": "f", "type": "quantitative", "axis": {"orient": "right", "values": [1e-19, 1e-18, 1e-17, 1e-16, 1e-14, 1e-13, 1e-12, 1e-11, 1e-9, 1e-8, 1e-7, 1e-6, 1e-4, 1e-3, 1e-2, 1e-1], "labels": false, "ticks": false, "grid": true, "gridDash": [1, 2], "gridColor": "#c8c8c8", "title": null, "minExtent": 10, "maxExtent": 10}}}},
     {"mark": {"type": "point", "opacity": 0},
      "encoding": {
       "x": {"field": "k", "type": "quantitative"},
       "y": {"field": "f", "type": "quantitative", "axis": {"orient": "left", "values": [1e-20, 1e-15, 1e-10, 1e-5, 1], "labelExpr": "'' + round(log(datum.value) / LN10)", "labelFontSize": 9.5, "labelPadding": 3, "labelOffset": -4, "ticks": false, "grid": false, "title": null, "minExtent": 0, "maxExtent": 32}}}}
    ]
   },
   {
    "width": 301, "height": 326,
    "title": "Gradient norm (log scale)",
    "data": {"name": "convB"},
    "resolve": {"axis": {"y": "independent"}},
    "layer": [
     {"mark": {"type": "line", "color": "#ff00ff", "strokeWidth": 2},
      "encoding": {
       "x": {"field": "k", "type": "quantitative", "scale": {"domain": [0, 15], "nice": false, "zero": false}, "axis": {"values": [0, 5, 10, 15], "title": "Iteration k", "grid": true, "titlePadding": 3}},
       "y": {"field": "g", "type": "quantitative", "scale": {"type": "log", "domain": [1e-5, 10], "nice": false}, "axis": {"values": [1e-5, 1e-4, 1e-3, 1e-2, 1e-1, 1, 10], "labelExpr": "'10'", "labelPadding": {"condition": {"test": "datum.value >= 1", "value": 13}, "value": 16}, "labelOffset": 2, "title": "‖∇f(xₖ)‖₂", "titleFontStyle": "italic", "grid": true, "minExtent": 32, "maxExtent": 32, "titlePadding": 7}}}},
     {"mark": {"type": "point", "shape": "square", "filled": false, "color": "#ff00ff", "strokeWidth": 1.5, "size": 30, "opacity": 1},
      "encoding": {
       "x": {"field": "k", "type": "quantitative"},
       "y": {"field": "g", "type": "quantitative", "axis": {"orient": "right", "values": [2e-5, 3e-5, 4e-5, 5e-5, 6e-5, 7e-5, 8e-5, 9e-5, 2e-4, 3e-4, 4e-4, 5e-4, 6e-4, 7e-4, 8e-4, 9e-4, 2e-3, 3e-3, 4e-3, 5e-3, 6e-3, 7e-3, 8e-3, 9e-3, 0.02, 0.03, 0.04, 0.05, 0.06, 0.07, 0.08, 0.09, 0.2, 0.3, 0.4, 0.5, 0.6, 0.7, 0.8, 0.9, 2, 3, 4, 5, 6, 7, 8, 9], "labels": false, "ticks": false, "grid": true, "gridDash": [1, 2], "gridColor": "#c8c8c8", "title": null, "minExtent": 10, "maxExtent": 10}}}},
     {"mark": {"type": "point", "opacity": 0},
      "encoding": {
       "x": {"field": "k", "type": "quantitative"},
       "y": {"field": "g", "type": "quantitative", "axis": {"orient": "left", "values": [1e-5, 1e-4, 1e-3, 1e-2, 1e-1, 1, 10], "labelExpr": "'' + round(log(datum.value) / LN10)", "labelFontSize": 9.5, "labelPadding": 3, "labelOffset": -4, "ticks": false, "grid": false, "title": null, "minExtent": 0, "maxExtent": 32}}}}
    ]
   }
  ]
 },
 {
  "title": {"text": "(ᴄ) Armijo backtracking", "orient": "bottom", "anchor": "middle", "frame": "bounds", "font": "DejaVu Serif", "fontSize": 25.5, "fontWeight": "normal", "color": "#000000", "offset": 21},
  "spacing": 29,
  "resolve": {"scale": {"fill": "independent", "stroke": "independent", "shape": "independent"}, "legend": {"fill": "independent", "stroke": "independent", "shape": "independent"}},
  "hconcat": [
   {
    "width": 267, "height": 326,
    "title": {"text": "YAND path (line search = Armijo)", "offset": 4},
    "resolve": {"axis": {"y": "independent"}},
    "layer": [
     {"data": {"name": "hill"}, "mark": {"type": "point", "shape": "circle", "filled": false, "strokeWidth": 0.9, "opacity": 1, "clip": true},
      "encoding": {
       "x": {"field": "cx", "type": "quantitative", "scale": {"domain": [-1.1, 1.1], "nice": false, "zero": false}, "axis": {"values": [-1, -0.5, 0, 0.5, 1], "labelExpr": "datum.value + ''", "title": "x₁", "titleFontStyle": "italic", "grid": true, "titlePadding": 3}},
       "y": {"field": "cy", "type": "quantitative", "scale": {"domain": [-1.1, 1.6], "nice": false, "zero": false}, "axis": {"values": [-1, -0.5, 0, 0.5, 1, 1.5], "labelExpr": "datum.value + ''", "title": "x₂", "titleFontStyle": "italic", "grid": true, "minExtent": 27, "maxExtent": 27, "titlePadding": 6}},
       "size": {"field": "r", "type": "quantitative", "scale": {"type": "pow", "exponent": 2, "domain": [0, 1], "range": [0, 58564]}, "legend": null},
       "color": {"field": "lvl", "type": "quantitative", "scale": {"domain": [0, 0.1, 0.2, 0.33, 0.45, 0.55, 0.7, 0.85, 1], "range": ["#4b47cf", "#4763e0", "#3f85e8", "#31aee0", "#36bcae", "#6cc27e", "#c3c24a", "#f7bf3a", "#f6e620"]}, "legend": null}}},
     {"data": {"name": "arcs"}, "mark": {"type": "arc", "filled": false, "strokeWidth": 0.9, "opacity": 1, "clip": true},
      "encoding": {
       "x": {"field": "cx", "type": "quantitative"},
       "y": {"field": "cy", "type": "quantitative", "axis": {"orient": "right", "values": [-1, -0.5, 0, 0.5, 1, 1.5], "labels": false, "grid": false, "title": null, "minExtent": 26, "maxExtent": 26}},
       "theta": {"field": "t1", "type": "quantitative", "stack": null, "scale": {"domain": [0, 360], "range": [0, 6.283185]}},
       "theta2": {"field": "t2"},
       "radius": {"field": "r", "type": "quantitative", "scale": {"type": "linear", "domain": [0, 1], "range": [0, 121], "zero": true}},
       "radius2": {"field": "r"},
       "color": {"field": "lvl", "type": "quantitative", "legend": null}}},
     {"data": {"name": "bowlMask"}, "mark": {"type": "point", "shape": "M-1,0A1,0.3,0,1,0,1,0A1,0.3,0,1,0,-1,0Z", "filled": true, "color": "#ffffff", "opacity": 1, "clip": true},
      "encoding": {
       "x": {"field": "cx", "type": "quantitative"},
       "y": {"field": "cy", "type": "quantitative", "axis": null},
       "size": {"field": "r", "type": "quantitative", "legend": null}}},
     {"data": {"name": "bowl"}, "mark": {"type": "point", "shape": "M-1,0A1,0.3,0,1,0,1,0A1,0.3,0,1,0,-1,0Z", "filled": false, "strokeWidth": 0.9, "opacity": 1, "clip": true},
      "encoding": {
       "x": {"field": "cx", "type": "quantitative"},
       "y": {"field": "cy", "type": "quantitative", "axis": null},
       "size": {"field": "r", "type": "quantitative", "legend": null},
       "color": {"field": "lvl", "type": "quantitative", "legend": null}}},
     {"data": {"name": "fingers"}, "mark": {"type": "line", "strokeWidth": 0.9, "clip": true, "interpolate": "cardinal"},
      "encoding": {
       "x": {"field": "x", "type": "quantitative"},
       "y": {"field": "y", "type": "quantitative", "axis": null},
       "detail": {"field": "id"},
       "order": {"field": "i"},
       "color": {"field": "lvl", "type": "quantitative", "legend": null}}},
     {"data": {"name": "pathC"}, "mark": {"type": "line", "color": "#ff0000", "strokeWidth": 2, "clip": true},
      "encoding": {"x": {"field": "x", "type": "quantitative"}, "y": {"field": "y", "type": "quantitative", "axis": null}, "order": {"field": "i"}}},
     {"data": {"name": "pathC"}, "mark": {"type": "point", "shape": "circle", "filled": false, "color": "#ff0000", "strokeWidth": 1.5, "size": 50, "opacity": 1},
      "encoding": {"x": {"field": "x", "type": "quantitative"}, "y": {"field": "y", "type": "quantitative", "axis": null}}},
     {"data": {"name": "pathC"}, "transform": [{"filter": "datum.i == 0"}], "mark": {"type": "point", "shape": "square", "filled": true, "fill": "#ffff00", "stroke": "#000000", "strokeWidth": 1, "size": 64, "opacity": 1},
      "encoding": {"x": {"field": "x", "type": "quantitative"}, "y": {"field": "y", "type": "quantitative", "axis": null}}},
     {"data": {"name": "pathC"}, "transform": [{"filter": "datum.i == 15"}], "mark": {"type": "point", "shape": "M0,-1L0.235,-0.324L0.951,-0.309L0.38,0.124L0.588,0.809L0,0.4L-0.588,0.809L-0.38,0.124L-0.951,-0.309L-0.235,-0.324Z", "filled": true, "fill": "#00ff00", "stroke": "#000000", "strokeWidth": 1, "size": 170, "opacity": 1},
      "encoding": {"x": {"field": "x", "type": "quantitative"}, "y": {"field": "y", "type": "quantitative", "axis": null}}},
     {"data": {"name": "legendItems"}, "mark": {"type": "point", "filled": true, "opacity": 1, "clip": true},
      "encoding": {
       "x": {"datum": 9},
       "y": {"datum": 9, "axis": null},
       "fill": {"field": "series", "type": "nominal", "scale": {"domain": ["Level sets", "YAND path", "Start", "End"], "range": ["transparent", "transparent", "#ffff00", "#00ff00"]}, "legend": {"title": null, "orient": "top-right", "offset": 10, "padding": 3, "rowPadding": -1, "symbolSize": 100, "symbolStrokeWidth": 1.4, "labelFontSize": 12.5, "labelColor": "#000000", "labelOffset": 32, "strokeColor": "#262626", "fillColor": "#ffffff", "cornerRadius": 0}},
       "stroke": {"field": "series", "type": "nominal", "scale": {"domain": ["Level sets", "YAND path", "Start", "End"], "range": ["#3f5fe0", "#ff0000", "#000000", "#000000"]}, "legend": {"title": null, "orient": "top-right", "offset": 10, "padding": 3, "rowPadding": -1, "symbolSize": 100, "symbolStrokeWidth": 1.4, "labelFontSize": 12.5, "labelColor": "#000000", "labelOffset": 32, "strokeColor": "#262626", "fillColor": "#ffffff", "cornerRadius": 0}},
       "shape": {"field": "series", "type": "nominal", "scale": {"domain": ["Level sets", "YAND path", "Start", "End"], "range": ["M-1.2,0A4,0.9,0,1,0,6.8,0A4,0.9,0,1,0,-1.2,0ZM0.2,0A2.6,0.6,0,1,0,5.4,0A2.6,0.6,0,1,0,0.2,0ZM1.5,0A1.3,0.3,0,1,0,4.1,0A1.3,0.3,0,1,0,1.5,0Z", "M-1.2,0L2.08,0M3.52,0L6.8,0M2.08,0A0.72,0.72,0,1,0,3.52,0A0.72,0.72,0,1,0,2.08,0Z", "M2.08,-0.72L3.52,-0.72L3.52,0.72L2.08,0.72Z", "M2.8,-1.2L3.082,-0.388L3.941,-0.371L3.256,0.148L3.506,0.971L2.8,0.48L2.094,0.971L2.344,0.148L1.659,-0.371L2.518,-0.388Z"]}, "legend": {"title": null, "orient": "top-right", "offset": 10, "padding": 3, "rowPadding": -1, "symbolSize": 100, "symbolStrokeWidth": 1.4, "labelFontSize": 12.5, "labelColor": "#000000", "labelOffset": 32, "strokeColor": "#262626", "fillColor": "#ffffff", "cornerRadius": 0}}}}
    ]
   },
   {
    "width": 300, "height": 326,
    "title": "Function value (log scale)",
    "data": {"name": "convC"},
    "resolve": {"axis": {"y": "independent"}},
    "layer": [
     {"mark": {"type": "line", "color": "#0000ff", "strokeWidth": 2},
      "encoding": {
       "x": {"field": "k", "type": "quantitative", "scale": {"domain": [0, 15], "nice": false, "zero": false}, "axis": {"values": [0, 5, 10, 15], "title": "Iteration k", "grid": true, "titlePadding": 3}},
       "y": {"field": "f", "type": "quantitative", "scale": {"type": "log", "domain": [1e-20, 1.72], "nice": false}, "axis": {"values": [1e-20, 1e-15, 1e-10, 1e-5, 1], "labelExpr": "'10'", "labelPadding": {"condition": [{"test": "datum.value >= 1", "value": 13}, {"test": "datum.value >= 1e-9", "value": 16}], "value": 21.5}, "labelOffset": 2, "title": "f(xₖ) − f*", "titleFontStyle": "italic", "grid": true, "minExtent": 32, "maxExtent": 32, "titlePadding": 7}}}},
     {"mark": {"type": "point", "shape": "circle", "filled": false, "color": "#0000ff", "strokeWidth": 1.6, "size": 50, "opacity": 1},
      "encoding": {
       "x": {"field": "k", "type": "quantitative"},
       "y": {"field": "f", "type": "quantitative", "axis": {"orient": "right", "values": [1e-19, 1e-18, 1e-17, 1e-16, 1e-14, 1e-13, 1e-12, 1e-11, 1e-9, 1e-8, 1e-7, 1e-6, 1e-4, 1e-3, 1e-2, 1e-1], "labels": false, "ticks": false, "grid": true, "gridDash": [1, 2], "gridColor": "#c8c8c8", "title": null, "minExtent": 10, "maxExtent": 10}}}},
     {"mark": {"type": "point", "opacity": 0},
      "encoding": {
       "x": {"field": "k", "type": "quantitative"},
       "y": {"field": "f", "type": "quantitative", "axis": {"orient": "left", "values": [1e-20, 1e-15, 1e-10, 1e-5, 1], "labelExpr": "'' + round(log(datum.value) / LN10)", "labelFontSize": 9.5, "labelPadding": 3, "labelOffset": -4, "ticks": false, "grid": false, "title": null, "minExtent": 0, "maxExtent": 32}}}}
    ]
   },
   {
    "width": 301, "height": 326,
    "title": "Gradient norm (log scale)",
    "data": {"name": "convC"},
    "resolve": {"axis": {"y": "independent"}},
    "layer": [
     {"mark": {"type": "line", "color": "#ff00ff", "strokeWidth": 2},
      "encoding": {
       "x": {"field": "k", "type": "quantitative", "scale": {"domain": [0, 15], "nice": false, "zero": false}, "axis": {"values": [0, 5, 10, 15], "title": "Iteration k", "grid": true, "titlePadding": 3}},
       "y": {"field": "g", "type": "quantitative", "scale": {"type": "log", "domain": [1e-5, 10], "nice": false}, "axis": {"values": [1e-5, 1e-4, 1e-3, 1e-2, 1e-1, 1, 10], "labelExpr": "'10'", "labelPadding": {"condition": {"test": "datum.value >= 1", "value": 13}, "value": 16}, "labelOffset": 2, "title": "‖∇f(xₖ)‖₂", "titleFontStyle": "italic", "grid": true, "minExtent": 32, "maxExtent": 32, "titlePadding": 7}}}},
     {"mark": {"type": "point", "shape": "square", "filled": false, "color": "#ff00ff", "strokeWidth": 1.5, "size": 30, "opacity": 1},
      "encoding": {
       "x": {"field": "k", "type": "quantitative"},
       "y": {"field": "g", "type": "quantitative", "axis": {"orient": "right", "values": [2e-5, 3e-5, 4e-5, 5e-5, 6e-5, 7e-5, 8e-5, 9e-5, 2e-4, 3e-4, 4e-4, 5e-4, 6e-4, 7e-4, 8e-4, 9e-4, 2e-3, 3e-3, 4e-3, 5e-3, 6e-3, 7e-3, 8e-3, 9e-3, 0.02, 0.03, 0.04, 0.05, 0.06, 0.07, 0.08, 0.09, 0.2, 0.3, 0.4, 0.5, 0.6, 0.7, 0.8, 0.9, 2, 3, 4, 5, 6, 7, 8, 9], "labels": false, "ticks": false, "grid": true, "gridDash": [1, 2], "gridColor": "#c8c8c8", "title": null, "minExtent": 10, "maxExtent": 10}}}},
     {"mark": {"type": "point", "opacity": 0},
      "encoding": {
       "x": {"field": "k", "type": "quantitative"},
       "y": {"field": "g", "type": "quantitative", "axis": {"orient": "left", "values": [1e-5, 1e-4, 1e-3, 1e-2, 1e-1, 1, 10], "labelExpr": "'' + round(log(datum.value) / LN10)", "labelFontSize": 9.5, "labelPadding": 3, "labelOffset": -4, "ticks": false, "grid": false, "title": null, "minExtent": 0, "maxExtent": 32}}}}
    ]
   }
  ]
 }
]
}
